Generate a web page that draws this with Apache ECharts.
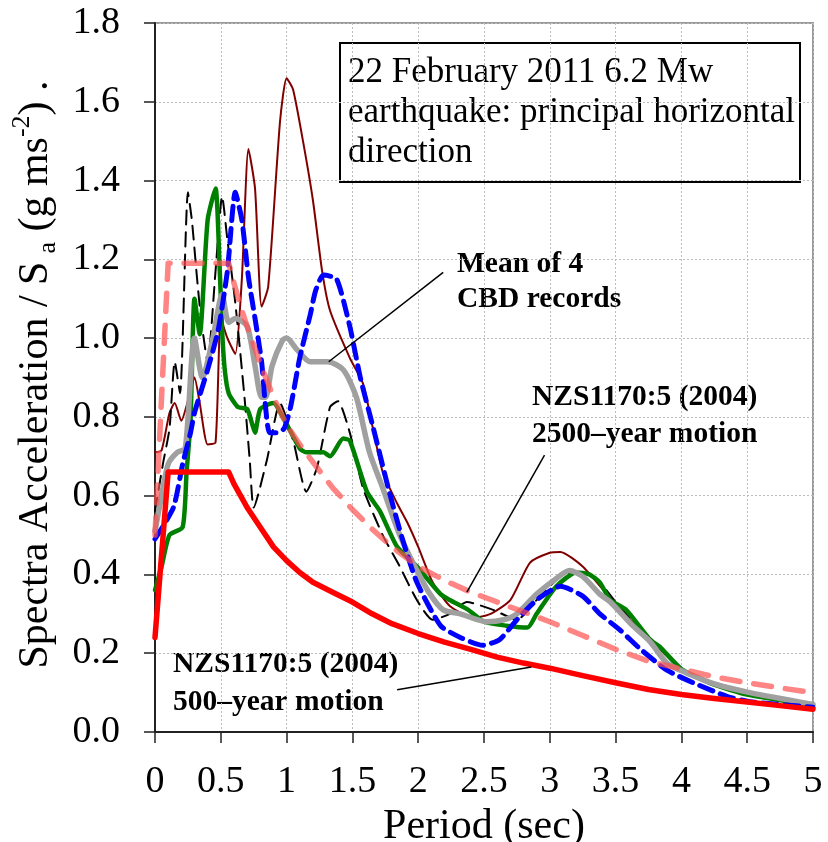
<!DOCTYPE html>
<html>
<head>
<meta charset="utf-8">
<script src="https://cdn.jsdelivr.net/npm/echarts@6/dist/echarts.min.js"></script>
<style>
  html, body { margin: 0; padding: 0; background: #fff; }
  #chart { width: 828px; height: 842px; }
</style>
</head>
<body>
<div id="chart"></div>
<script>
// period (sec), Sa (g) pairs
const record1 = [[0,0.71],[0.05,0.715],[0.11,0.81],[0.15,0.835],[0.2,0.79],[0.25,0.84],[0.3,0.9],[0.34,0.835],[0.4,0.73],[0.46,0.735],[0.5,1.05],[0.55,1.0],[0.61,0.96],[0.66,1.15],[0.71,1.48],[0.76,1.38],[0.81,1.08],[0.86,1.13],[0.95,1.55],[1.0,1.66],[1.05,1.63],[1.13,1.49],[1.2,1.35],[1.27,1.17],[1.33,1.07],[1.48,0.95],[1.58,0.885],[1.65,0.78],[1.73,0.66],[1.84,0.58],[1.92,0.53],[2.0,0.47],[2.11,0.38],[2.24,0.32],[2.42,0.29],[2.55,0.30],[2.7,0.335],[2.85,0.43],[3.0,0.455],[3.08,0.457],[3.25,0.42],[3.51,0.32],[3.76,0.235],[4.0,0.16],[4.25,0.125],[4.52,0.10],[5.0,0.072]];
const record2 = [[0,0.56],[0.06,0.68],[0.11,0.77],[0.15,0.94],[0.19,0.86],[0.25,1.37],[0.28,1.3],[0.32,1.15],[0.35,1.05],[0.4,0.94],[0.46,1.17],[0.51,1.36],[0.55,1.25],[0.61,1.09],[0.68,0.85],[0.72,0.69],[0.75,0.57],[0.85,0.69],[0.95,0.835],[1.05,0.74],[1.15,0.61],[1.23,0.67],[1.33,0.825],[1.39,0.84],[1.48,0.76],[1.58,0.62],[1.73,0.5],[1.86,0.42],[1.99,0.335],[2.11,0.285],[2.24,0.30],[2.37,0.33],[2.57,0.31],[2.75,0.285],[2.9,0.335],[3.1,0.4],[3.25,0.405],[3.38,0.38],[3.5,0.33],[3.76,0.24],[4.0,0.16],[4.25,0.12],[4.5,0.095],[5.0,0.068]];
const record3 = [[0,0.36],[0.05,0.42],[0.11,0.5],[0.21,0.52],[0.24,0.66],[0.27,0.79],[0.3,1.1],[0.34,1.01],[0.4,1.3],[0.46,1.38],[0.49,1.19],[0.51,1.02],[0.53,0.92],[0.56,0.86],[0.63,0.825],[0.7,0.82],[0.74,0.78],[0.76,0.76],[0.8,0.82],[0.9,0.835],[0.97,0.8],[1.1,0.72],[1.15,0.71],[1.28,0.71],[1.33,0.70],[1.43,0.745],[1.48,0.74],[1.61,0.61],[1.71,0.56],[1.84,0.47],[1.99,0.42],[2.17,0.35],[2.24,0.335],[2.38,0.31],[2.5,0.28],[2.67,0.27],[2.83,0.265],[2.9,0.3],[3.05,0.37],[3.2,0.405],[3.3,0.4],[3.38,0.38],[3.46,0.335],[3.58,0.31],[3.76,0.235],[3.84,0.215],[4.0,0.16],[4.25,0.12],[4.5,0.095],[5.0,0.068]];
const record4 = [[0,0.49],[0.14,0.57],[0.21,0.68],[0.27,0.76],[0.3,0.81],[0.4,0.92],[0.48,1.02],[0.55,1.17],[0.61,1.37],[0.66,1.3],[0.71,1.155],[0.76,1.05],[0.81,0.94],[0.84,0.825],[0.87,0.76],[0.92,0.76],[0.98,0.77],[1.03,0.825],[1.1,0.95],[1.18,1.06],[1.22,1.12],[1.28,1.16],[1.38,1.15],[1.48,1.03],[1.56,0.9],[1.66,0.77],[1.78,0.61],[1.88,0.49],[1.99,0.38],[2.17,0.27],[2.32,0.24],[2.49,0.22],[2.62,0.235],[2.75,0.285],[2.9,0.335],[3.08,0.37],[3.25,0.345],[3.38,0.30],[3.53,0.26],[3.69,0.21],[3.89,0.157],[4.09,0.125],[4.35,0.09],[4.52,0.077],[5.0,0.063]];
const meanOf4 = [[0,0.51],[0.05,0.6],[0.1,0.68],[0.17,0.71],[0.23,0.72],[0.3,1.0],[0.36,0.9],[0.44,1.0],[0.51,1.11],[0.56,1.04],[0.61,1.05],[0.7,1.03],[0.76,0.93],[0.81,0.85],[0.84,0.85],[0.89,0.93],[0.97,0.995],[1.0,1.0],[1.08,0.97],[1.18,0.94],[1.31,0.94],[1.43,0.92],[1.53,0.85],[1.63,0.71],[1.73,0.62],[1.86,0.5],[1.99,0.41],[2.09,0.35],[2.19,0.31],[2.32,0.30],[2.52,0.28],[2.65,0.285],[2.75,0.30],[2.9,0.35],[3.05,0.39],[3.15,0.41],[3.25,0.395],[3.38,0.35],[3.46,0.33],[3.63,0.27],[3.76,0.23],[3.89,0.175],[4.04,0.15],[4.27,0.12],[4.52,0.10],[5.0,0.07]];
const nzs2500 = [[0,0.5],[0.05,0.85],[0.1,1.19],[0.56,1.19],[0.6,1.14],[0.65,1.08],[0.7,1.03],[0.8,0.935],[0.9,0.85],[1.0,0.78],[1.1,0.73],[1.2,0.685],[1.35,0.62],[1.5,0.565],[1.65,0.515],[1.8,0.47],[2.0,0.42],[2.2,0.385],[2.4,0.355],[2.6,0.33],[2.8,0.305],[3.0,0.28],[3.25,0.245],[3.5,0.21],[3.75,0.18],[4.0,0.16],[4.25,0.14],[4.5,0.125],[4.75,0.112],[5.0,0.10]];
const nzs500 = [[0,0.24],[0.1,0.66],[0.56,0.66],[0.6,0.63],[0.65,0.60],[0.7,0.57],[0.8,0.52],[0.9,0.47],[1.0,0.435],[1.1,0.405],[1.2,0.38],[1.35,0.355],[1.5,0.33],[1.65,0.30],[1.8,0.275],[2.0,0.25],[2.2,0.228],[2.4,0.21],[2.6,0.19],[2.8,0.175],[3.0,0.162],[3.25,0.143],[3.5,0.125],[3.75,0.108],[4.0,0.095],[4.25,0.085],[4.5,0.076],[4.75,0.067],[5.0,0.058]];

// annotation leader lines: [from, to] in data units
const leaderLines = [
  [[2.19, 1.167], [1.32, 0.94]],
  [[2.96, 0.703], [2.37, 0.355]],
  [[1.84, 0.107], [2.86, 0.165]]
];

const FONT = 'Liberation Serif';
const chart = echarts.init(document.getElementById('chart'));

function curve(name, data, color, width, dash, smooth) {
  return {
    name: name,
    type: 'line',
    data: data,
    showSymbol: false,
    symbol: 'none',
    smooth: smooth || false,
    animation: false,
    silent: true,
    lineStyle: { color: color, width: width, type: dash || 'solid', cap: 'round', join: 'round' }
  };
}

chart.setOption({
  backgroundColor: '#fff',
  animation: false,
  grid: {
    left: 155, right: 15, top: 23, bottom: 110,
    outerBoundsMode: 'none',
    containLabel: false,
    show: true, borderColor: '#999', borderWidth: 2
  },
  xAxis: {
    type: 'value',
    min: 0, max: 5, interval: 0.5,
    name: 'Period (sec)',
    nameLocation: 'middle',
    nameGap: 65,
    nameTextStyle: { fontFamily: FONT, fontSize: 42, color: '#000' },
    axisLine: { lineStyle: { color: '#222', width: 2 } },
    axisTick: { show: true, inside: false, length: 11, lineStyle: { color: '#222', width: 1.5 } },
    axisLabel: { fontFamily: FONT, fontSize: 38, color: '#000', margin: 31 },
    splitLine: { show: true, lineStyle: { color: '#bbb', type: [2, 2], width: 1 } }
  },
  yAxis: {
    type: 'value',
    min: 0, max: 1.8, interval: 0.2,
    name: 'Spectra Acceleration / S{sub|a} (g ms{sup|-2}) .',
    nameLocation: 'middle',
    nameRotate: 90,
    nameGap: 90,
    nameTextStyle: {
      fontFamily: FONT, fontSize: 42, color: '#000', lineHeight: 52,
      padding: [0, 0, 0, 6],
      rich: {
        sub: { fontFamily: FONT, fontSize: 26, color: '#000', lineHeight: 22, verticalAlign: 'bottom', padding: [0, 0, 0, 8] },
        sup: { fontFamily: FONT, fontSize: 26, color: '#000', lineHeight: 22, verticalAlign: 'top' }
      }
    },
    axisLine: { show: true, lineStyle: { color: '#222', width: 2 } },
    axisTick: { show: true, inside: false, length: 11, lineStyle: { color: '#222', width: 1.5 } },
    axisLabel: {
      fontFamily: FONT, fontSize: 38, color: '#000', margin: 35,
      formatter: v => v.toFixed(1)
    },
    splitLine: { show: true, lineStyle: { color: '#bbb', type: [2, 2], width: 1 } }
  },
  series: [
    curve('Record 1', record1, '#800000', 2, null, 0.2),
    curve('Record 2', record2, '#000', 2, [14, 8], 0.2),
    curve('Record 3', record3, '#008000', 4.5, null, 0.2),
    curve('Mean of 4 CBD records', meanOf4, '#a0a0a0', 5.5, null, 0.25),
    curve('Record 4', record4, '#0000ff', 5, [14, 8], 0.2),
    curve('NZS1170:5 (2004) 2500-year motion', nzs2500, 'rgba(255,80,80,0.7)', 5.5, [18, 14]),
    curve('NZS1170:5 (2004) 500-year motion', nzs500, '#ff0000', 5.5),
    {
      name: 'leaders',
      type: 'line',
      data: [],
      silent: true,
      animation: false,
      markLine: {
        silent: true,
        animation: false,
        symbol: ['none', 'none'],
        label: { show: false },
        lineStyle: { color: '#000', width: 1.5, type: 'solid' },
        data: leaderLines.map(([a, b]) => [{ coord: a }, { coord: b }])
      }
    }
  ],
  graphic: [
    {
      type: 'rect',
      shape: { x: 340, y: 43, width: 460, height: 139 },
      style: { fill: 'none', stroke: '#000', lineWidth: 2 },
      silent: true
    },
    {
      type: 'text', left: 348, top: 53, silent: true,
      style: {
        text: '22 February 2011 6.2 Mw\nearthquake: principal horizontal\ndirection',
        font: '35px "Liberation Serif"', fill: '#000', lineHeight: 40
      }
    },
    {
      type: 'text', left: 457, top: 247, silent: true,
      style: { text: 'Mean of 4\nCBD records', font: 'bold 29.5px "Liberation Serif"', fill: '#000', lineHeight: 35 }
    },
    {
      type: 'text', left: 532, top: 379, silent: true,
      style: { text: 'NZS1170:5 (2004)\n2500\u2013year motion', font: 'bold 29.5px "Liberation Serif"', fill: '#000', lineHeight: 37 }
    },
    {
      type: 'text', left: 173, top: 645, silent: true,
      style: { text: 'NZS1170:5 (2004)\n500\u2013year motion', font: 'bold 29.5px "Liberation Serif"', fill: '#000', lineHeight: 38 }
    }
  ]
});
</script>
</body>
</html>
